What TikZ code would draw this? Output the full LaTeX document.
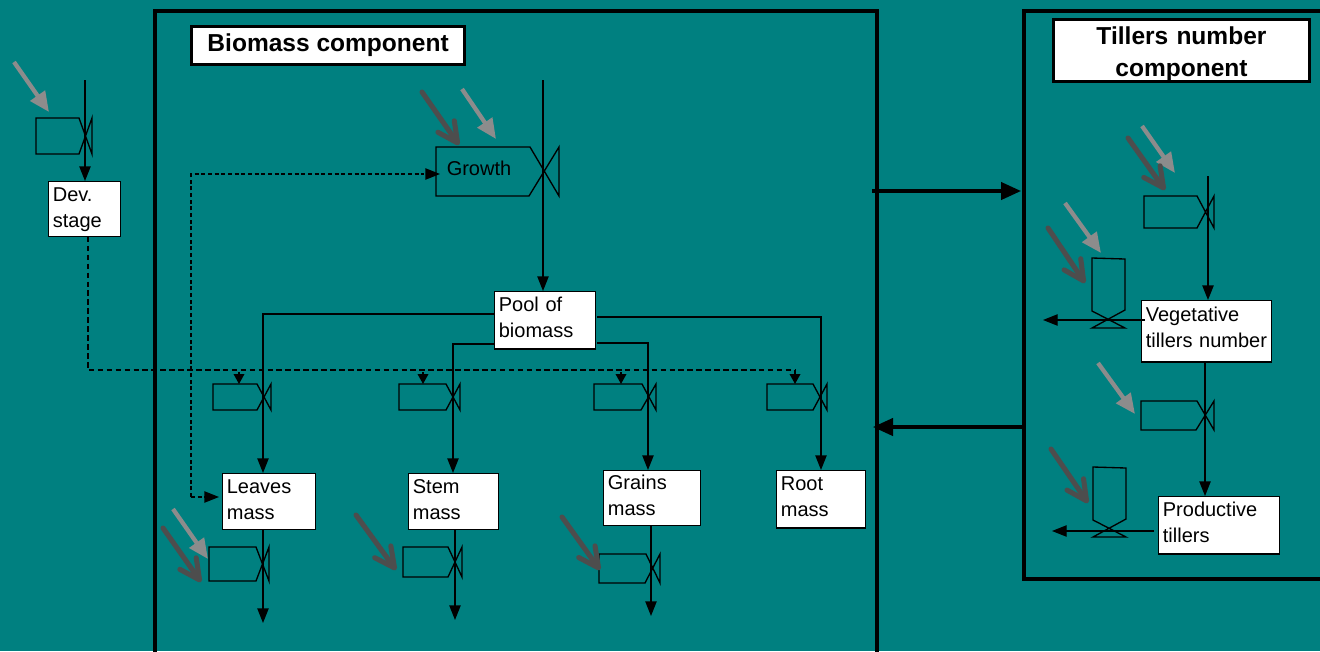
\documentclass[tikz,border=0pt]{standalone}
\usepackage{fontspec}
\setmainfont{Liberation Sans}
\usetikzlibrary{arrows.meta}
\definecolor{tealbg}{RGB}{0,128,128}
\definecolor{darkin}{RGB}{77,77,77}
\definecolor{greyin}{RGB}{140,140,140}
\tikzset{
  statebox/.style={draw=black,fill=white,line width=0.9pt,anchor=north west,align=left,inner xsep=3.2pt,inner ysep=0pt,text depth=23pt,font=\fontsize{15}{19.5}\selectfont},
  titlebox/.style={draw=black,fill=white,line width=2.2pt,anchor=north west,align=center,inner sep=0pt,font=\fontsize{18.4}{24}\selectfont\bfseries},
  frame/.style={draw=black,line width=3pt},
  valve/.style={draw=black,line width=1pt},
  flow/.style={draw=black,line width=1pt,-{Triangle[length=11pt,width=8.5pt]}},
  smallflow/.style={draw=black,line width=1pt,-{Triangle[length=7.5pt,width=8pt]}},
  dashflow/.style={draw=black,line width=1.1pt,dash pattern=on 4.2pt off 2.5pt},
  dashthin/.style={draw=black,line width=1pt,dash pattern=on 3pt off 2pt},
  linkarrow/.style={draw=black,line width=2.4pt,-{Triangle[length=15pt,width=13pt]}},
  greyarrow/.style={draw=greyin,line width=3.2pt,-{Triangle[length=15pt,width=13pt]}},
  darkarrow/.style={draw=darkin,line width=3.8pt,line cap=round,-{Straight Barb[length=15pt,width=15pt,line width=3.8pt,round]}}
}
\begin{document}
\begin{tikzpicture}[x=0.75pt,y=-0.75pt]
\useasboundingbox[fill=tealbg] (0,0) rectangle (1320,651);
% frames
\draw[frame] (155,670) -- (155,11) -- (877,11) -- (877,670);
\draw[frame] (1340,11) -- (1024,11) -- (1024,579) -- (1340,579);
\node[titlebox,minimum width=205pt,minimum height=28.5pt] (biomass) at (190,25) {Biomass component};
\node[titlebox,minimum height=46.5pt,text width=192pt,text depth=23pt] (tillers) at (1052,18) {Tillers number\\component};
% state variables
\node[statebox,text width=47.6pt,minimum height=41pt,text depth=21pt] (dev) at (48,181) {Dev.\\stage};
\node[statebox,text width=69pt,minimum height=43pt,text depth=24pt] (pool) at (494,291) {Pool of\\biomass};
\node[statebox,text width=63pt,minimum height=42pt] (leaves) at (222,473) {Leaves\\mass};
\node[statebox,text width=61pt,minimum height=42pt] (stem) at (408,473) {Stem\\mass};
\node[statebox,text width=66pt,minimum height=41pt] (grains) at (603,470) {Grains\\mass};
\node[statebox,text width=60pt,minimum height=43pt,text depth=24pt] (root) at (776,470) {Root\\mass};
\node[statebox,text width=91pt,minimum height=46pt,text depth=25pt] (veg) at (1141,300) {Vegetative\\tillers number};
\node[statebox,text width=84pt,minimum height=43pt,text depth=24pt] (prod) at (1158,496) {Productive\\tillers};
% valves
\draw[valve] (36,118) -- (79,118) -- (92,154) -- (92,118) -- (79,154) -- (36,154) -- cycle;
\draw[valve] (436,147) -- (530,147) -- (559,196) -- (559,147) -- (529,196) -- (436,196) -- cycle;
\draw[valve] (213,384) -- (257,384) -- (271,410) -- (271,384) -- (257,410) -- (213,410) -- cycle;
\draw[valve] (399,384) -- (446,384) -- (460,410) -- (460,384) -- (446,410) -- (399,410) -- cycle;
\draw[valve] (594,384) -- (642,384) -- (656,410) -- (656,384) -- (641,410) -- (594,410) -- cycle;
\draw[valve] (767,384) -- (813,384) -- (827,410) -- (827,384) -- (813,410) -- (767,410) -- cycle;
\draw[valve] (209,547) -- (256,547) -- (269,581) -- (269,547) -- (256,581) -- (209,581) -- cycle;
\draw[valve] (403,547) -- (448,547) -- (462,577) -- (462,547) -- (448,577) -- (403,577) -- cycle;
\draw[valve] (599,554) -- (646,554) -- (660,583) -- (660,554) -- (645,583) -- (599,583) -- cycle;
\draw[valve] (1144,196) -- (1197,196) -- (1214,228) -- (1214,196) -- (1197,228) -- (1144,228) -- cycle;
\draw[valve] (1141,401) -- (1197,401) -- (1214,430) -- (1214,401) -- (1196,430) -- (1141,430) -- cycle;
\draw[valve] (1092,258) -- (1125,259) -- (1125,310) -- (1092,328) -- (1125,328) -- (1092,311) -- cycle;
\draw[valve] (1093,467) -- (1126,468) -- (1126,519) -- (1093,537) -- (1126,537) -- (1093,520) -- cycle;
\node[font=\fontsize{15}{18}\selectfont,inner sep=0pt] (growth) at (479,168) {Growth};
% free ends
\coordinate (devin) at (85,80);
\coordinate (growthin) at (543,80);
\coordinate (tillin) at (1208,176);
\coordinate (leavesout) at (263,623);
\coordinate (stemout) at (455,620);
\coordinate (grainsout) at (651,616);
\coordinate (vegstart) at (1145,320);
\coordinate (vegout) at (1043,320);
\coordinate (prodstart) at (1154,531);
\coordinate (prodout) at (1052,531);
\coordinate (leavesbranch) at (263,314);
\coordinate (stembranch) at (453,344);
\coordinate (grainsbranch) at (648,343);
\coordinate (rootbranch) at (821,317);
\coordinate (poolrightup) at (597,317);
\coordinate (poolrightlow) at (597,343);
% flows
\draw[flow] (devin) -- (dev.north -| devin);
\draw[flow] (growthin) -- (pool.north -| growthin);
\draw[flow] (tillin) -- (veg.north -| tillin);
\draw[flow] (1205,362) -- (1205,496);
\draw[flow] (vegstart) -- (vegout);
\draw[flow] (prodstart) -- (prodout);
\draw[flow] (pool.west |- leavesbranch) -- (leavesbranch) -- (leaves.north -| leavesbranch);
\draw[flow] (pool.west |- stembranch) -- (stembranch) -- (stem.north -| stembranch);
\draw[flow] (poolrightlow) -- (grainsbranch) -- (grains.north -| grainsbranch);
\draw[flow] (poolrightup) -- (rootbranch) -- (root.north -| rootbranch);
\draw[flow] (leaves.south -| leavesout) -- (leavesout);
\draw[flow] (stem.south -| stemout) -- (stemout);
\draw[flow] (grains.south -| grainsout) -- (grainsout);
% dashed controls
\coordinate (devturn) at (88,370);
\coordinate (rootvalve) at (795,370);
\coordinate (growthturn) at (191,174);
\coordinate (leavesturn) at (191,497);
\coordinate (leavestip) at (219,497);
\coordinate (growthtip) at (440,174);
\draw[dashflow] (dev.south -| devturn) -- (devturn) -- (rootvalve);
\draw[dashthin] (leavesturn) -- (growthturn) -- (424,174);
\draw[dashthin] (leavesturn) -- (204,497);
\draw[flow] (426,174) -- (growthtip);
\draw[flow] (204,497) -- (leavestip);
\draw[smallflow] (239,372) -- (239,384);
\draw[smallflow] (423,372) -- (423,384);
\draw[smallflow] (621,372) -- (621,384);
\draw[smallflow] (rootvalve) -- (795,384);
% links between components
\coordinate (linkoutstart) at (872,191);
\coordinate (linkoutend) at (1021,191);
\coordinate (linkbackstart) at (1023,427);
\coordinate (linkbackend) at (873,427);
\draw[linkarrow] (linkoutstart) -- (linkoutend);
\draw[linkarrow] (linkbackstart) -- (linkbackend);
% drivers
\draw[greyarrow] (14,62) -- (49,112);
\draw[greyarrow] (462,89) -- (496,139);
\draw[greyarrow] (1142,126) -- (1175,173);
\draw[greyarrow] (1065,203) -- (1101,253);
\draw[greyarrow] (1098,363) -- (1135,414);
\draw[greyarrow] (173,509) -- (208,559);
\draw[darkarrow] (422,92) -- (459,145);
\draw[darkarrow] (1128,138) -- (1165,190);
\draw[darkarrow] (1048,228) -- (1085,283);
\draw[darkarrow] (1051,449) -- (1088,503);
\draw[darkarrow] (163,528) -- (201,582);
\draw[darkarrow] (356,515) -- (396,570);
\draw[darkarrow] (562,517) -- (600,570);
\end{tikzpicture}
\end{document}
